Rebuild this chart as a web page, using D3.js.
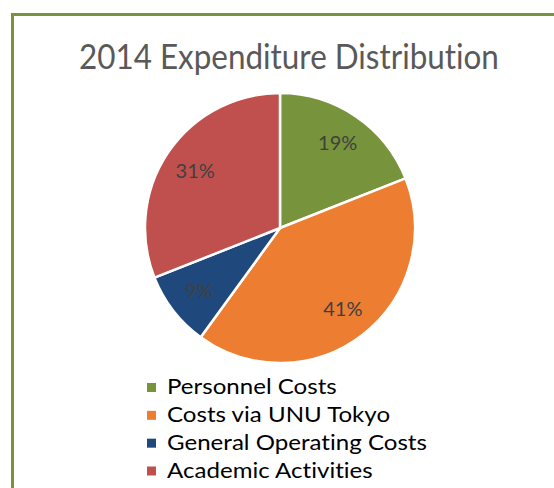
<!DOCTYPE html>
<html>
<head>
<meta charset="utf-8">
<script src="https://cdn.jsdelivr.net/npm/d3@7"></script>
<style>
  html, body { margin: 0; padding: 0; background: #fff; }
  svg { display: block; }
  text { font-variant-ligatures: none; font-feature-settings: "liga" 0, "clig" 0; }
</style>
</head>
<body>
<div id="chart"></div>
<script>
// Chart data
var chartTitle = "2014 Expenditure Distribution";
var categories = ["Personnel Costs", "Costs via UNU Tokyo", "General Operating Costs", "Academic Activities"];
var shares = [19, 41, 9, 31];
var sliceColours = ["#77933c", "#ed7d31", "#1f497d", "#c0504d"];

var width = 554, height = 488;
var fontFamily = "Lato, 'Open Sans', 'DejaVu Sans', sans-serif";

var svg = d3.select("#chart").append("svg")
    .attr("width", width)
    .attr("height", height);

// Chart frame (runs off the right and bottom of the picture)
svg.append("rect")
    .attr("x", 12.5)
    .attr("y", 14.5)
    .attr("width", 700)
    .attr("height", 700)
    .attr("fill", "#fff")
    .attr("stroke", "#77933c")
    .attr("stroke-width", 3);

// squeeze / stretch a text element horizontally to a target width
function fitWidth(sel, targetW, anchorX) {
    var w = sel.node().getComputedTextLength();
    var k = targetW / w;
    sel.attr("transform", "translate(" + anchorX + ",0) scale(" + k + ",1) translate(" + (-anchorX) + ",0)");
}

// Title
var title = svg.append("text")
    .attr("x", 289)
    .attr("y", 69)
    .attr("text-anchor", "middle")
    .attr("font-family", fontFamily)
    .attr("font-size", 34)
    .attr("fill", "#595959")
    .text(chartTitle);
fitWidth(title, 420, 289);

// Pie
var cx = 280, cy = 228, radius = 135;

var pie = d3.pie().sort(null).value(function(d) { return d; });
var arcs = pie(shares);

var arc = d3.arc().innerRadius(0).outerRadius(radius);
var labelArc = d3.arc().innerRadius(radius * 0.76).outerRadius(radius * 0.76);

var g = svg.append("g").attr("transform", "translate(" + cx + "," + cy + ")");

g.selectAll("path.slice")
    .data(arcs)
    .enter().append("path")
    .attr("class", "slice")
    .attr("d", arc)
    .attr("fill", function(d, i) { return sliceColours[i]; })
    .attr("stroke", "#fff")
    .attr("stroke-width", 2.5)
    .attr("stroke-linejoin", "round");

g.selectAll("text.lbl")
    .data(arcs)
    .enter().append("text")
    .attr("class", "lbl")
    .attr("transform", function(d) { return "translate(" + labelArc.centroid(d) + ")"; })
    .attr("text-anchor", "middle")
    .attr("dy", "0.36em")
    .attr("font-family", fontFamily)
    .attr("font-size", 20)
    .attr("fill", "#404040")
    .text(function(d) { return d.data + "%"; });

// Legend
var legendY = d3.scalePoint()
    .domain(categories)
    .range([387.5, 471]);

var legend = svg.append("g");
var rows = legend.selectAll("g.row")
    .data(categories)
    .enter().append("g")
    .attr("class", "row");

rows.append("rect")
    .attr("x", 147)
    .attr("y", function(d) { return legendY(d) - 4.5; })
    .attr("width", 9)
    .attr("height", 9)
    .attr("fill", function(d, i) { return sliceColours[i]; });

var legendText = rows.append("text")
    .attr("x", 167)
    .attr("y", function(d) { return legendY(d) + 7; })
    .attr("font-family", fontFamily)
    .attr("font-size", 20.5)
    .attr("fill", "#000")
    .text(function(d) { return d; });

// same horizontal scale for all legend entries, fitted on the longest one
var longest = 0;
legendText.each(function() { longest = Math.max(longest, this.getComputedTextLength()); });
var k = 260 / longest;
legendText.attr("transform", "translate(167,0) scale(" + k + ",1) translate(-167,0)");
</script>
</body>
</html>
